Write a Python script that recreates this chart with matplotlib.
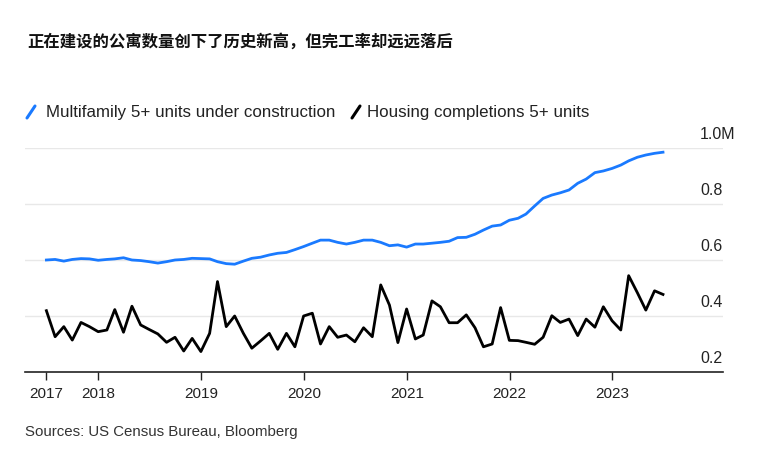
#!/usr/bin/env python3
"""
Multifamily units under construction vs housing completions (5+ units), monthly.
Recreates the Bloomberg-style chart and saves it as out.png.
"""

import matplotlib
matplotlib.use("Agg")
import matplotlib.pyplot as plt
from matplotlib.lines import Line2D
import pandas as pd

# monthly values, millions of units, mid 2017 .. mid 2023
dates = pd.date_range("2017-06-30", periods=73, freq="ME")

under_construction = [
    0.600, 0.602, 0.596, 0.602, 0.605, 0.604, 0.599, 0.602, 0.604, 0.608,
    0.600, 0.598, 0.594, 0.589, 0.594, 0.600, 0.602, 0.606, 0.605,
    0.604, 0.594, 0.587, 0.585, 0.596, 0.606, 0.610, 0.618, 0.624, 0.627,
    0.637, 0.648, 0.660, 0.671, 0.671, 0.663, 0.657, 0.663,
    0.671, 0.671, 0.663, 0.651, 0.654, 0.646, 0.657, 0.657, 0.660, 0.663,
    0.667, 0.680, 0.681, 0.692, 0.707, 0.721, 0.725, 0.742,
    0.749, 0.764, 0.793, 0.820, 0.832, 0.840, 0.850, 0.874, 0.889, 0.912,
    0.918, 0.927, 0.939, 0.954, 0.967, 0.975, 0.981, 0.985,
]

completions = [
    0.419, 0.326, 0.362, 0.314, 0.377, 0.362, 0.344, 0.350, 0.423, 0.342,
    0.435, 0.368, 0.352, 0.336, 0.306, 0.324, 0.275, 0.320, 0.273,
    0.338, 0.523, 0.362, 0.400, 0.338, 0.285, 0.311, 0.338, 0.281, 0.338,
    0.290, 0.400, 0.410, 0.300, 0.362, 0.324, 0.332, 0.308,
    0.358, 0.326, 0.511, 0.439, 0.305, 0.425, 0.318, 0.332, 0.454, 0.433,
    0.376, 0.376, 0.404, 0.358, 0.290, 0.300, 0.430, 0.313,
    0.312, 0.306, 0.299, 0.324, 0.401, 0.377, 0.389, 0.330, 0.389, 0.360,
    0.433, 0.383, 0.350, 0.544, 0.483, 0.421, 0.490, 0.477,
]

series_names = ["Multifamily 5+ units under construction", "Housing completions 5+ units"]
series_colors = ["#1a7aff", "#000000"]

y_ticks = [0.2, 0.4, 0.6, 0.8, 1.0]
y_labels = ["0.2", "0.4", "0.6", "0.8", "1.0M"]

x_ticks = [dates[0]] + [pd.Timestamp(f"{y}-01-01") for y in range(2018, 2024)]
x_labels = ["2017", "2018", "2019", "2020", "2021", "2022", "2023"]

title = "正在建设的公寓数量创下了历史新高，但完工率却远远落后"
source = "Sources: US Census Bureau, Bloomberg"

W, H = 784, 459
plt.rcParams["font.family"] = ["Liberation Sans", "DejaVu Sans"]


def fx(px):
    return px / W


def fy(py):
    return 1 - py / H


fig = plt.figure(figsize=(W / 100, H / 100), dpi=100)
ax = fig.add_axes([fx(25), fy(372), fx(723) - fx(25), fy(148) - fy(372)])

ax.plot(dates, under_construction, color=series_colors[0], lw=2.0,
        solid_joinstyle="round", zorder=3)
ax.plot(dates, completions, color=series_colors[1], lw=2.0,
        solid_joinstyle="round", zorder=3)

x0 = pd.Timestamp("2017-04-15")
x1 = x0 + (dates[-1] - x0) * ((723 - 25) / (663 - 25))
ax.set_xlim(x0, x1)
ax.set_ylim(0.2, 1.0)

# grid + right-side labels sitting above gridlines
for v, lab in zip(y_ticks, y_labels):
    if v > 0.2:
        ax.axhline(v, color="#e8e8e8", lw=1.0, zorder=1)
    ax.text((700 - 25) / (723 - 25), v + 0.022, lab, transform=ax.get_yaxis_transform(),
            ha="left", va="bottom", fontsize=11.5, color="#222222")

ax.set_yticks([])
ax.set_xticks(x_ticks)
ax.set_xticklabels(x_labels, fontsize=11, color="#222222")
ax.tick_params(axis="x", length=6, width=1.0, color="#222222", pad=5)
for side in ["top", "right", "left"]:
    ax.spines[side].set_visible(False)
ax.spines["bottom"].set_color("#222222")
ax.spines["bottom"].set_linewidth(1.2)

# title
fig.text(fx(27), fy(42), title, ha="left", va="center", fontsize=11.8,
         fontweight="bold", family=["Noto Sans CJK SC", "DejaVu Sans"], color="#111111")

# legend with slanted line icons
legend_pos = [(27, 46), (352, 367)]
for (icon_x, text_x), name, col in zip(legend_pos, series_names, series_colors):
    fig.add_artist(Line2D([fx(icon_x), fx(icon_x + 8)], [fy(118), fy(106)],
                          color=col, lw=2.2, solid_capstyle="round"))
    fig.text(fx(text_x), fy(112), name, ha="left", va="center", fontsize=12.2,
             color="#222222")

fig.text(fx(25), fy(432), source, ha="left", va="center", fontsize=10.8, color="#333333")

fig.savefig("out.png", dpi=100)
